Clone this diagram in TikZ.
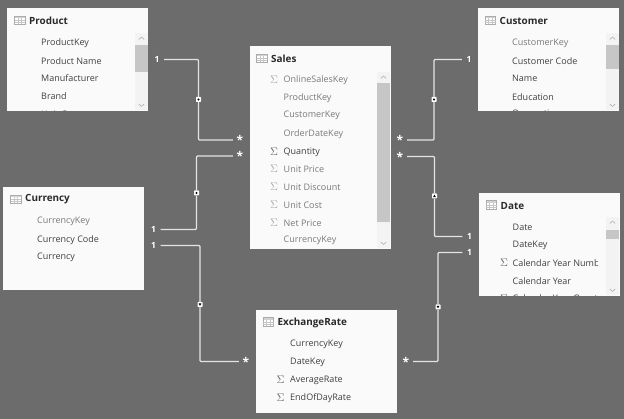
\documentclass[tikz,border=0pt]{standalone}
\usepackage{fontspec}
\setmainfont{Open Sans}
\usetikzlibrary{calc}
\definecolor{canvas}{HTML}{6C6C6C}
\definecolor{ink}{HTML}{404040}
\definecolor{hiddenink}{HTML}{7A7A7A}
\definecolor{titleink}{HTML}{2A2A2A}
\definecolor{track}{HTML}{F3F3F3}
\definecolor{thumb}{HTML}{C6C6C6}
\definecolor{linkc}{HTML}{E4E4E4}
\tikzset{
  x=1pt,y=-1pt,
  tablebox/.style={fill=white!98!black,draw=none,minimum width=141pt,minimum height=103pt,anchor=north west,inner sep=0pt},
  tabletitle/.style={font=\fontsize{9.9}{11}\selectfont\bfseries,text=titleink,anchor=west,inner sep=0pt,yshift=-0.6pt},
  fieldrow/.style={font=\fontsize{9}{11}\selectfont,text=ink,anchor=west,inner sep=0pt,yshift=-0.8pt},
  hiddenrow/.style={fieldrow,text=hiddenink},
  sigmark/.style={font=\fontsize{11}{11}\selectfont,text=ink!80,anchor=center,inner sep=0pt,yshift=-0.4pt},
  sigfaint/.style={sigmark,text=hiddenink!65},
  card/.style={font=\fontsize{8.5}{10}\selectfont\bfseries,text=white,minimum width=14pt,minimum height=9pt,inner sep=0pt},
  starcard/.style={card,font=\fontsize{12}{10}\selectfont\bfseries},
  link/.style={draw=linkc,line width=1.1pt,rounded corners=1pt},
  hub/.style={fill=white,draw=none,minimum size=5pt,inner sep=0pt,rounded corners=0.6pt},
}
\newcommand{\gridicon}[2]{%
  \begin{scope}[shift={(#1,#2)}]
    \fill[white] (0,0) rectangle (10.5,8.5);
    \fill[gray!35] (0,0) rectangle (10.5,2.2);
    \draw[gray!65,line width=0.5pt] (0,0) rectangle (10.5,8.5);
    \draw[gray!45,line width=0.35pt] (0,4.3)--(10.5,4.3) (0,6.4)--(10.5,6.4) (3.5,2.2)--(3.5,8.5) (7,2.2)--(7,8.5);
  \end{scope}}
\newcommand{\scrollbar}[5]{% x, top, bottom, thumb top, thumb bottom
  \fill[track] (#1,#2) rectangle ($(#1,#3)+(13,0)$);
  \fill[thumb] (#1,#4) rectangle ($(#1,#5)+(12.5,0)$);
  \draw[gray!60,line width=0.6pt] ($(#1,#2)+(3.8,6.5)$) -- ($(#1,#2)+(6.5,4)$) -- ($(#1,#2)+(9.2,6.5)$);
  \draw[gray!60,line width=0.6pt] ($(#1,#3)+(3.8,-6.5)$) -- ($(#1,#3)+(6.5,-4)$) -- ($(#1,#3)+(9.2,-6.5)$);}
\begin{document}
\begin{tikzpicture}
\useasboundingbox (0,0) rectangle (624,419);
\fill[canvas] (0,0) rectangle (624,419);

% ---- tables
\node[tablebox] (product) at (7,8) {};
\node[tablebox,minimum height=203pt] (sales) at (249.5,46) {};
\node[tablebox] (customer) at (478,8) {};
\node[tablebox] (date) at (478.5,193) {};
\node[tablebox] (currency) at (3,187) {};
\node[tablebox] (exchange) at (256,310) {};

% ---- titles and icons
\gridicon{14.5}{16}
\node[tabletitle] (productT) at (29,20.5) {Product};
\gridicon{256.5}{54}
\node[tabletitle] (salesT) at (271,58.5) {Sales};
\gridicon{485}{16}
\node[tabletitle] (customerT) at (499.5,20.5) {Customer};
\gridicon{486}{200.5}
\node[tabletitle] (dateT) at (500.5,205) {Date};
\gridicon{10.5}{195}
\node[tabletitle] (currencyT) at (25,199) {Currency};
\gridicon{263}{317.5}
\node[tabletitle] (exchangeT) at (277.5,322) {ExchangeRate};

% ---- fields
\begin{scope}
  \clip (7,30) rectangle (135,111);
  \node[fieldrow] (p1) at (41,42) {ProductKey};
  \node[fieldrow] (p2) at (41,60) {Product Name};
  \node[fieldrow] (p3) at (41,77.5) {Manufacturer};
  \node[fieldrow] (p4) at (41,95) {Brand};
  \node[fieldrow] (p5) at (41,113) {Unit Cost};
\end{scope}
\begin{scope}
  \clip (478,30) rectangle (606,111);
  \node[hiddenrow] (c1) at (512,42.5) {CustomerKey};
  \node[fieldrow] (c2) at (512,60) {Customer Code};
  \node[fieldrow] (c3) at (512,78) {Name};
  \node[fieldrow] (c4) at (512,96) {Education};
  \node[fieldrow] (c5) at (512,113.5) {Occupation};
\end{scope}
\begin{scope}
  \clip (478.5,215) rectangle (597.5,296);
  \node[fieldrow] (d1) at (512.5,227) {Date};
  \node[fieldrow] (d2) at (512.5,244.5) {DateKey};
  \node[sigmark] (ds3) at (504,262.5) {$\Sigma$};
  \node[fieldrow] (d3) at (512.5,262.5) {Calendar Year Number};
  \node[fieldrow] (d4) at (512.5,280) {Calendar Year};
  \node[sigmark] (ds5) at (504,298) {$\Sigma$};
  \node[fieldrow] (d5) at (512.5,298) {Calendar Year Quarter};
\end{scope}
\node[hiddenrow] (s1) at (283.5,79.5) {OnlineSalesKey};
\node[sigfaint] (ss1) at (274,79.5) {$\Sigma$};
\node[hiddenrow] (s2) at (283.5,97.5) {ProductKey};
\node[hiddenrow] (s3) at (283.5,115) {CustomerKey};
\node[hiddenrow] (s4) at (283.5,133) {OrderDateKey};
\node[fieldrow] (s5) at (283.5,151) {Quantity};
\node[sigmark] (ss5) at (274,151) {$\Sigma$};
\node[hiddenrow] (s6) at (283.5,168.5) {Unit Price};
\node[sigfaint] (ss6) at (274,168.5) {$\Sigma$};
\node[hiddenrow] (s7) at (283.5,186) {Unit Discount};
\node[sigfaint] (ss7) at (274,186) {$\Sigma$};
\node[hiddenrow] (s8) at (283.5,204) {Unit Cost};
\node[sigfaint] (ss8) at (274,204) {$\Sigma$};
\node[hiddenrow] (s9) at (283.5,222) {Net Price};
\node[sigfaint] (ss9) at (274,222) {$\Sigma$};
\node[hiddenrow] (s10) at (283.5,240) {CurrencyKey};
\node[hiddenrow] (u1) at (37,221) {CurrencyKey};
\node[fieldrow] (u2) at (37,239) {Currency Code};
\node[fieldrow] (u3) at (37,256.5) {Currency};
\node[fieldrow] (e1) at (290,344) {CurrencyKey};
\node[fieldrow] (e2) at (290,362) {DateKey};
\node[fieldrow] (e3) at (290,379.5) {AverageRate};
\node[sigmark] (es3) at (280.5,379.5) {$\Sigma$};
\node[fieldrow] (e4) at (290,397.5) {EndOfDayRate};
\node[sigmark] (es4) at (280.5,397.5) {$\Sigma$};

% ---- scrollbars
\scrollbar{135}{33}{110.5}{45}{72}
\scrollbar{377}{72}{248.5}{83}{222}
\scrollbar{606}{33}{110.5}{45}{69}
\scrollbar{606}{217}{295.5}{230}{239}

% ---- cardinality labels
\node[card] (k1) at (157,59.5) {1};
\node[starcard] (k2) at (240,140) {*};
\node[card] (k3) at (153.5,229.5) {1};
\node[starcard] (k4) at (240,156) {*};
\node[card] (k5) at (153.5,245.5) {1};
\node[starcard] (k6) at (246,361.5) {*};
\node[starcard] (k7) at (400,140) {*};
\node[card] (k8) at (469,59.5) {1};
\node[starcard] (k9) at (400,156.5) {*};
\node[card] (k10) at (469.5,236.5) {1};
\node[starcard] (k11) at (406,361.5) {*};
\node[card] (k12) at (469.5,252.5) {1};

% ---- connector hubs
\node[hub] (h1) at (198.5,99.5) {};
\node[hub] (h2) at (196.5,193) {};
\node[hub] (h3) at (200,304.5) {};
\node[hub] (h4) at (434,99.5) {};
\node[hub] (h5) at (434.5,196) {};
\node[hub] (h6) at (438,307) {};

% ---- connectors
\draw[link] (k1.east) -| (h1.north) (h1.south) |- (k2.west);
\draw[link] (k3.east) -| (h2.south) (h2.north) |- (k4.west);
\draw[link] (k5.east) -| (h3.north) (h3.south) |- (k6.west);
\draw[link] (k7.east) -| (h4.south) (h4.north) |- (k8.west);
\draw[link] (k9.east) -| (h5.north) (h5.south) |- (k10.west);
\draw[link] (k11.east) -| (h6.south) (h6.north) |- (k12.west);

% ---- hub marks
\fill[black] (h1) circle (1.1pt);
\fill[black] (h2) circle (1.1pt);
\fill[black] (h4) circle (1.1pt);
\fill[black] (h5.center)++(-1.4,1.1) -- ++(2.8,0) -- ++(-1.4,-2.4) -- cycle;
\fill[black] (h3.center)++(-1.4,-1.1) -- ++(2.8,0) -- ++(-1.4,2.4) -- cycle;
\fill[black] (h6.center)++(-1.4,-1.1) -- ++(2.8,0) -- ++(-1.4,2.4) -- cycle;
\end{tikzpicture}
\end{document}
